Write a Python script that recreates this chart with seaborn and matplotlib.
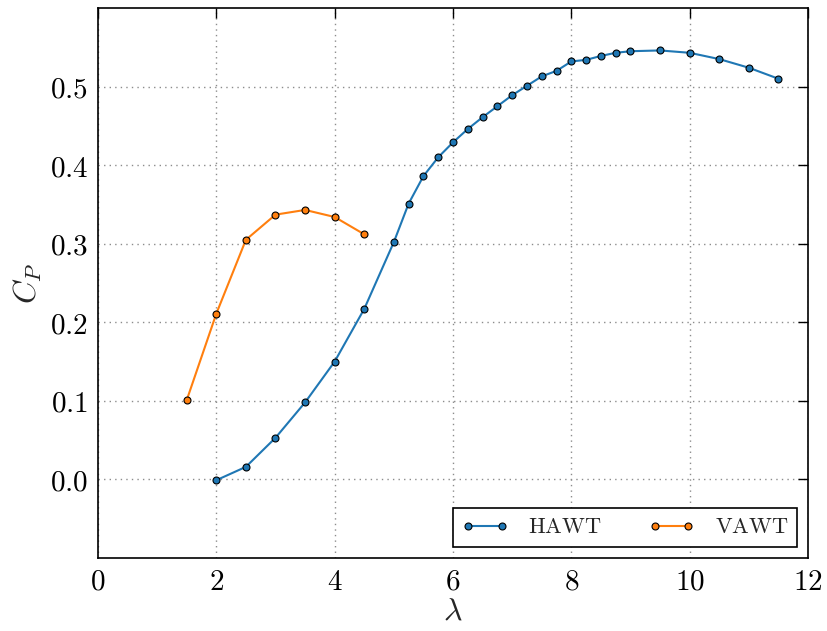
import matplotlib
matplotlib.use("Agg")
import matplotlib.pyplot as plt
from matplotlib.ticker import FuncFormatter, MultipleLocator
import seaborn as sns
import pandas as pd

# Power coefficient vs tip-speed ratio
hawt_tsr = [2.0, 2.5, 3.0, 3.5, 4.0, 4.5, 5.0, 5.25, 5.5, 5.75, 6.0, 6.25, 6.5, 6.75,
            7.0, 7.25, 7.5, 7.75, 8.0, 8.25, 8.5, 8.75, 9.0, 9.5, 10.0, 10.5, 11.0, 11.5]
hawt_cp = [-0.001, 0.016, 0.053, 0.098, 0.150, 0.217, 0.302, 0.351, 0.386, 0.410, 0.429,
           0.446, 0.461, 0.475, 0.489, 0.501, 0.513, 0.520, 0.532, 0.534, 0.539, 0.543,
           0.545, 0.546, 0.543, 0.535, 0.524, 0.510]

vawt_tsr = [1.5, 2.0, 2.5, 3.0, 3.5, 4.0, 4.5]
vawt_cp = [0.101, 0.211, 0.305, 0.337, 0.343, 0.334, 0.312]

series_names = ["HAWT", "VAWT"]
series_colors = ["#1f77b4", "#ff7f0e"]

sns.set_style("white")
plt.rcParams["mathtext.fontset"] = "cm"
plt.rcParams["font.family"] = ["DejaVu Serif"]

fig = plt.figure(figsize=(8.27, 6.31), dpi=100)
ax = fig.add_axes([0.1185, 0.1157, 0.8585, 0.8716])

frames = [
    pd.DataFrame({"tsr": hawt_tsr, "cp": hawt_cp}),
    pd.DataFrame({"tsr": vawt_tsr, "cp": vawt_cp}),
]
for df, name, color in zip(frames, series_names, series_colors):
    sns.lineplot(data=df, x="tsr", y="cp", ax=ax, color=color, lw=1.5,
                 marker="o", markersize=5, markeredgecolor="black",
                 markeredgewidth=0.8, label=r"$\mathrm{%s}$" % name,
                 legend=False, sort=False)

ax.set_xlim(0, 12)
ax.set_ylim(-0.1, 0.6)
ax.xaxis.set_major_locator(MultipleLocator(2))
ax.set_yticks([0.0, 0.1, 0.2, 0.3, 0.4, 0.5])
ax.xaxis.set_major_formatter(FuncFormatter(lambda v, p: r"$%d$" % round(v)))
ax.yaxis.set_major_formatter(FuncFormatter(lambda v, p: r"$%.1f$" % v))

ax.grid(True, color="#8c8c8c", linestyle=(0, (1, 3)), linewidth=1.0)
ax.tick_params(direction="in", length=7, width=1, top=True, right=True,
               labelsize=21, pad=7, colors="black")
for s in ax.spines.values():
    s.set_color("black")
    s.set_linewidth(1.2)

ax.set_xlabel(r"$\lambda$", fontsize=23, labelpad=0)
ax.set_ylabel(r"$C_P$", fontsize=23, labelpad=4)

leg = ax.legend(loc="lower right", ncol=2, numpoints=2, fontsize=16,
                fancybox=False, frameon=True, edgecolor="black",
                handlelength=2.1, columnspacing=2.1, borderaxespad=0.5,
                borderpad=0.38, handletextpad=0.9)
leg.get_frame().set_linewidth(1.2)
leg.get_frame().set_alpha(1)

fig.savefig("out.png", dpi=100)
